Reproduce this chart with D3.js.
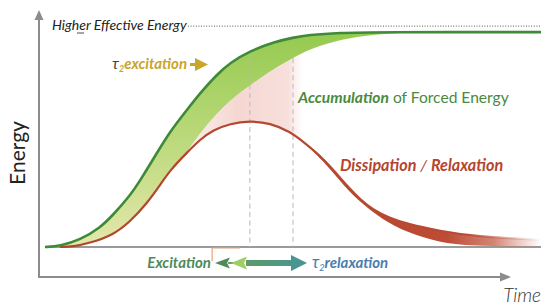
<!DOCTYPE html>
<html><head><meta charset="utf-8">
<script src="https://cdn.jsdelivr.net/npm/d3@7"></script>
<style>body{margin:0;background:#fff}svg{display:block;font-family:Lato,'Open Sans',sans-serif}</style>
</head><body><svg id="c" width="550" height="308"></svg>
<script>
// ---- data (time 0..100, energy 0..1) ----
const excitationCurve = [[0,0],[3,0.004],[7.1,0.032],[11.1,0.086],[13.7,0.144],[17.1,0.23],[19.2,0.3],[22.6,0.425],[25.2,0.52],[28.6,0.617],[31.3,0.694],[34.7,0.778],[37.3,0.83],[41.3,0.883],[46.4,0.925],[50,0.943],[53,0.955],[59.5,0.965],[66.5,0.968],[100,0.968]];
const accumulationLower = [[28.6,0.423],[29.8,0.468],[32.3,0.54],[34.7,0.602],[37.7,0.667],[41.3,0.728],[46.4,0.806],[50,0.851],[53.4,0.892],[59.9,0.937],[66.5,0.959],[73.6,0.966],[79.6,0.968]];
const relaxationCurve = [[3,0],[5.6,0.002],[9.1,0.018],[13.7,0.054],[17.1,0.113],[20.6,0.198],[23.2,0.279],[25.2,0.345],[28.6,0.425],[31.3,0.485],[33.9,0.527],[37.3,0.556],[41.3,0.568],[45.4,0.558],[49.4,0.52],[52.4,0.468],[56,0.4],[58.5,0.338],[60.9,0.275],[63.5,0.215],[66.1,0.168],[69.6,0.13],[73,0.104],[79.6,0.072],[86.7,0.047],[100,0.032]];
const dissipationLower = [[52.4,0.468],[56,0.39],[59.5,0.297],[62.9,0.212],[68.1,0.122],[73,0.066],[79.6,0.02],[85.7,0.005],[100,0]];
const higherEnergyLevel = 0.995;
const markerTimes = [41.3, 50.0];
const excitationMarker = [33.7, 39.3];
const labels = {
  higher: "Higher Effective Energy",
  tauExc: "excitation",
  accBold: "Accumulation", accRest: " of Forced Energy",
  dissBold: "Dissipation", dissSep: " / ", dissBold2: "Relaxation",
  exc: "Excitation", tauRel: "relaxation",
  yLabel: "Energy", xLabel: "Time"
};

const svg = d3.select("#c");
const x = d3.scaleLinear().domain([0,100]).range([45,541]);
const y = d3.scaleLinear().domain([0,1]).range([247,25]);
const defs = svg.append("defs");

function grad(id, attrs, stops){
  const g = defs.append("linearGradient").attr("id",id).attr("gradientUnits","userSpaceOnUse");
  Object.entries(attrs).forEach(([k,v])=>g.attr(k,v));
  stops.forEach(s=>g.append("stop").attr("offset",s[0]).attr("stop-color",s[1]).attr("stop-opacity",s[2]==null?1:s[2]));
}
grad("gGreen",{x1:0,y1:30,x2:0,y2:247},[[0,"#95c94f"],[0.4,"#b3d672"],[1,"#e4e8ac"]]);
grad("gPink",{x1:x(28),y1:0,x2:x(52),y2:0},[[0,"#f6d9d4",0.45],[0.45,"#f4d0ca",0.85],[0.88,"#f5d5d0",0.75],[1,"#f8e2de",0]]);
grad("gRed",{x1:x(52),y1:0,x2:x(100),y2:0},[[0,"#b4432c"],[0.6,"#bd4b35"],[0.8,"#c65a45",0.75],[1,"#d27060",0]]);
grad("gRedStroke",{x1:x(0),y1:0,x2:x(100),y2:0},[[0,"#b0452c"],[0.85,"#b84a33"],[1,"#c86050",0]]);
grad("gShaft",{x1:248,y1:0,x2:300,y2:0},[[0,"#5c9a6c"],[1,"#4a9590"]]);

const line = d3.line().x(d=>x(d[0])).y(d=>y(d[1])).curve(d3.curveBasis);
function revPath(pts){
  const p = line(pts.slice().reverse());
  return "L" + p.substring(1);
}

// baseline
svg.append("line").attr("x1",x(0)).attr("x2",x(100)).attr("y1",y(0)).attr("y2",y(0))
  .attr("stroke","#9a9a9a").attr("stroke-width",2);

// higher effective energy dotted line
svg.append("line").attr("x1",188).attr("x2",x(100)).attr("y1",y(higherEnergyLevel)).attr("y2",y(higherEnergyLevel))
  .attr("stroke","#555").attr("stroke-width",1).attr("stroke-dasharray","1,1.6");

// green band
const splitT = accumulationLower[0][0];
const greenLower = relaxationCurve.filter(d=>d[0]<splitT).concat(accumulationLower);
svg.append("path").attr("d", line(excitationCurve) + revPath(greenLower) + "Z").attr("fill","url(#gGreen)");

// pink region
const pinkUpper = accumulationLower.filter(d=>d[0]<=56);
const pinkLower = relaxationCurve.filter(d=>d[0]>=splitT && d[0]<=56);
svg.append("path").attr("d", line(pinkUpper) + revPath(pinkLower) + "Z").attr("fill","url(#gPink)");

// vertical dashed markers
markerTimes.forEach((t,i)=>{
  const top = i===0 ? 0.885 : 0.85;
  svg.append("line").attr("x1",x(t)).attr("x2",x(t)).attr("y1",y(top)).attr("y2",y(0))
    .attr("stroke","#b8b8c0").attr("stroke-width",1).attr("stroke-dasharray","5,3.5");
});

// red dissipation band
svg.append("path").attr("d", line(relaxationCurve.filter(d=>d[0]>=52.4)) + revPath(dissipationLower) + "Z").attr("fill","url(#gRed)");
svg.append("path").attr("d", line(relaxationCurve)).attr("fill","none").attr("stroke","url(#gRedStroke)").attr("stroke-width",2.2);
svg.append("path").attr("d", line(excitationCurve)).attr("fill","none").attr("stroke","#3f8a38").attr("stroke-width",2.6);

// excitation marker (orange)
svg.append("path").attr("d",`M${x(excitationMarker[1])},${y(0)+1}H${x(excitationMarker[0])}V${y(0)+14}`)
  .attr("fill","none").attr("stroke","#e6a27e").attr("stroke-width",1.2);

// axes
const axisColor = "#8c8c8c";
svg.append("line").attr("x1",39).attr("x2",39).attr("y1",277).attr("y2",18).attr("stroke",axisColor).attr("stroke-width",2);
svg.append("path").attr("d","M39,10L34.5,20L43.5,20Z").attr("fill",axisColor);
svg.append("line").attr("x1",38).attr("x2",502).attr("y1",277).attr("y2",277).attr("stroke",axisColor).attr("stroke-width",2);
svg.append("path").attr("d","M511,277L500,272.5L500,281.5Z").attr("fill",axisColor);

// bottom arrows
const ay = 263;
svg.append("rect").attr("x",228).attr("y",ay-1).attr("width",10).attr("height",2).attr("fill","#6aa06a");
svg.append("path").attr("d",`M215,${ay}L230,${ay-5.5}L227,${ay}L230,${ay+5.5}Z`).attr("fill","#4f8a5c");
svg.append("path").attr("d",`M231,${ay}L247,${ay-6.5}L244,${ay}L247,${ay+6.5}Z`).attr("fill","#9fcf62");
svg.append("rect").attr("x",246).attr("y",ay-3).attr("width",48).attr("height",6).attr("fill","url(#gShaft)");
svg.append("path").attr("d",`M307,${ay}L291,${ay-8}L291,${ay+8}Z`).attr("fill","#4a9590");

// texts
svg.append("text").attr("x",52).attr("y",30).attr("font-size",14).attr("font-style","italic").attr("fill","#222")
  .text(labels.higher);
svg.append("line").attr("x1",77).attr("x2",84).attr("y1",33).attr("y2",33).attr("stroke","#222").attr("stroke-width",0.8);

const te = svg.append("text").attr("x",112).attr("y",69).attr("font-size",15).attr("font-style","italic");
te.append("tspan").attr("fill","#3d4a3c").attr("font-size",16).text("τ");
te.append("tspan").attr("fill","#c9a52a").attr("font-size",9).attr("dy",3).attr("font-weight",700).text("2");
te.append("tspan").attr("fill","#c9a52a").attr("dy",-3).attr("font-weight",700).text(labels.tauExc);
svg.append("rect").attr("x",190).attr("y",63).attr("width",6).attr("height",3).attr("fill","#c9a52a");
svg.append("path").attr("d","M208,64.5L195,58L195,71Z").attr("fill","#c9a52a");

const ta = svg.append("text").attr("x",298).attr("y",103).attr("font-size",15.6).attr("fill","#4a8a3e");
ta.append("tspan").attr("font-weight",700).attr("font-style","italic").text(labels.accBold);
ta.append("tspan").text(labels.accRest);

const td = svg.append("text").attr("x",340).attr("y",171).attr("font-size",16.2).attr("fill","#b5452f").attr("font-style","italic");
td.append("tspan").attr("font-weight",700).text(labels.dissBold);
td.append("tspan").text(labels.dissSep);
td.append("tspan").attr("font-weight",700).text(labels.dissBold2);

svg.append("text").attr("x",211).attr("y",268).attr("text-anchor","end").attr("font-size",15)
  .attr("font-style","italic").attr("font-weight",700).attr("fill","#4e8a5c").text(labels.exc);

const tr = svg.append("text").attr("x",312).attr("y",268).attr("font-size",15).attr("font-style","italic").attr("fill","#4b7eae");
tr.append("tspan").attr("font-size",17).text("τ");
tr.append("tspan").attr("font-size",9).attr("dy",3).text("2");
tr.append("tspan").attr("dy",-3).attr("font-weight",700).text(labels.tauRel);

svg.append("text").attr("transform","translate(25,153) rotate(-90)").attr("text-anchor","middle")
  .attr("font-size",21).attr("fill","#222").text(labels.yLabel);
svg.append("text").attr("x",541).attr("y",302).attr("text-anchor","end").attr("font-size",19)
  .attr("font-style","italic").attr("font-weight",300).attr("fill","#333").text(labels.xLabel);
</script></body></html>
